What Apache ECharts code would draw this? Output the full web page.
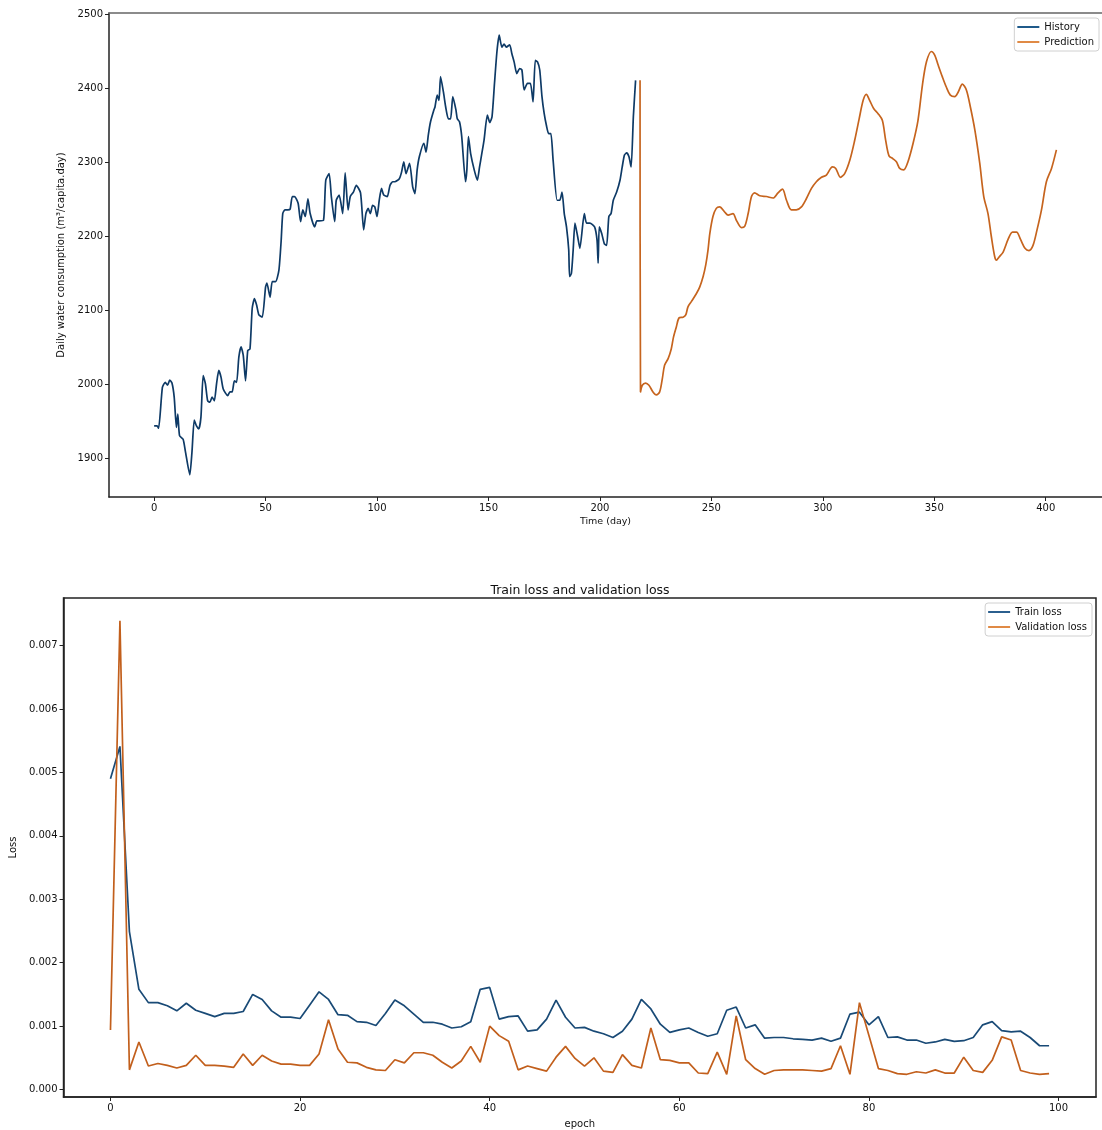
<!DOCTYPE html>
<html>
<head>
<meta charset="utf-8">
<script src="https://cdn.jsdelivr.net/npm/echarts@6/dist/echarts.min.js"></script>
<style>
  html, body { margin: 0; padding: 0; background: #fff; }
  #chart { width: 1102px; height: 1130px; }
</style>
</head>
<body>
<div id="chart"></div>
<script>
// water consumption: history
const historyDays = [0, 1.3, 2, 3.7, 5, 6, 7, 8, 9, 10, 10.6, 11.4, 13, 14, 16, 17, 18, 19, 20, 21, 22, 23, 24, 25, 26, 27, 28, 29, 30, 31, 33, 34, 35, 36, 37, 38, 39, 40, 41, 42, 43, 44, 45, 46, 47, 48.5, 50, 50.6, 52, 53, 54.5, 56, 57, 57.7, 58.7, 60, 61, 62, 63, 64.6, 65.7, 66.7, 67.8, 69, 70, 72, 73, 74, 76, 77, 78.5, 79.5, 81, 81.7, 83, 84.6, 85.7, 87, 88, 89.4, 90.7, 92.6, 94, 95, 96, 97, 98, 99, 100, 101, 102, 103, 104.6, 105.8, 107, 108, 110, 111, 112, 113, 114.6, 116, 117, 118, 119, 121, 122, 123, 124, 125.5, 126, 127, 127.8, 128.5, 129.8, 130.8, 132, 133, 134, 135.4, 136, 137, 138, 139.7, 140.3, 141, 142, 143.6, 145, 146, 147, 148, 149.5, 150.6, 151.6, 152.7, 153.8, 154.8, 156, 157, 158, 159.5, 160.5, 161.5, 162.7, 164, 165, 166, 167.5, 168.8, 170, 171, 172, 173, 174, 175, 176, 177, 178, 179, 180.8, 182, 183, 184, 185, 186, 186.4, 187.2, 188, 188.8, 190, 191, 193, 194, 195.5, 197.6, 198.7, 199.2, 199.7, 200.8, 202, 203, 204, 205, 206, 207.5, 209, 210, 211, 212, 213, 214, 215, 216];
const historyValues = [1944, 1944, 1941, 1996, 2003, 1999, 2006, 2002, 1983, 1942, 1960, 1931, 1926, 1910, 1878, 1910, 1952, 1944, 1940, 1956, 2012, 2001, 1978, 1976, 1983, 1978, 2001, 2019, 2010, 1994, 1985, 1990, 1990, 2005, 2003, 2037, 2051, 2039, 2005, 2046, 2048, 2103, 2116, 2107, 2094, 2091, 2132, 2137, 2118, 2139, 2139, 2155, 2195, 2231, 2236, 2236, 2237, 2254, 2254, 2245, 2220, 2236, 2227, 2251, 2231, 2213, 2221, 2221, 2222, 2276, 2285, 2254, 2220, 2249, 2256, 2231, 2286, 2236, 2254, 2260, 2269, 2259, 2209, 2231, 2238, 2231, 2242, 2240, 2227, 2249, 2265, 2256, 2254, 2269, 2274, 2274, 2278, 2287, 2301, 2285, 2299, 2267, 2258, 2290, 2308, 2326, 2314, 2337, 2355, 2371, 2375, 2391, 2384, 2416, 2395, 2375, 2359, 2359, 2389, 2371, 2359, 2355, 2335, 2274, 2290, 2335, 2312, 2290, 2276, 2294, 2312, 2330, 2364, 2354, 2362, 2407, 2450, 2472, 2456, 2460, 2456, 2459, 2447, 2436, 2420, 2427, 2425, 2398, 2407, 2407, 2382, 2438, 2436, 2425, 2389, 2366, 2350, 2339, 2339, 2303, 2249, 2249, 2260, 2231, 2213, 2182, 2146, 2150, 2182, 2218, 2200, 2184, 2231, 2218, 2218, 2213, 2195, 2164, 2213, 2204, 2190, 2188, 2227, 2231, 2249, 2260, 2276, 2294, 2310, 2313, 2308, 2294, 2362, 2411];

// water consumption: prediction
const predictionDays = [218, 218.2, 219, 220.5, 222, 223.8, 225.3, 226.8, 228, 229, 230.6, 232, 233, 234.3, 235.5, 237.3, 238.5, 239.5, 241, 243.3, 244.8, 246.3, 247.5, 248.5, 249.3, 250.7, 252.2, 253.7, 256, 257.5, 259.7, 261.2, 263.5, 265, 266.5, 268, 269.4, 271.7, 274.7, 277.7, 279.9, 281.9, 283.7, 285.9, 288.1, 290.4, 292.6, 294.9, 297.1, 299.4, 301.6, 304.3, 305.8, 307.9, 309.8, 312.1, 314.3, 316.3, 318.1, 319.5, 321, 322.8, 324.8, 326.7, 328.2, 329.7, 331.5, 333, 334.5, 336.3, 338.2, 340.5, 342.7, 344.7, 346.5, 348.7, 350.2, 351.7, 353.6, 355.4, 357.2, 359.2, 360.7, 362.6, 364.4, 366.2, 368.2, 370.4, 372.2, 374.1, 375.6, 377.1, 377.9, 379, 380.9, 383.1, 385.1, 386.9, 388.7, 390.7, 392.5, 394.3, 396.1, 398.1, 400.3, 402.6, 404.8];
const predictionValues = [2411, 1990, 1999, 2002, 1999, 1990, 1986, 1990, 2008, 2026, 2035, 2048, 2064, 2078, 2090, 2091, 2094, 2105, 2112, 2123, 2132, 2146, 2162, 2182, 2204, 2227, 2238, 2240, 2233, 2229, 2231, 2222, 2212, 2214, 2231, 2254, 2259, 2255, 2254, 2252, 2259, 2264, 2249, 2236, 2236, 2240, 2251, 2265, 2274, 2280, 2283, 2294, 2292, 2280, 2285, 2303, 2330, 2359, 2384, 2392, 2384, 2373, 2366, 2357, 2330, 2309, 2305, 2301, 2292, 2290, 2301, 2326, 2357, 2405, 2436, 2450, 2445, 2432, 2416, 2402, 2391, 2389, 2395, 2406, 2398, 2375, 2344, 2299, 2254, 2231, 2200, 2173, 2168, 2172, 2179, 2196, 2206, 2206, 2196, 2184, 2181, 2188, 2209, 2236, 2274, 2292, 2317];

// loss per epoch (0..99)
const trainLoss = [0.00490, 0.00541, 0.00249, 0.00158, 0.00137, 0.00137, 0.00132, 0.00124, 0.00136, 0.00125,
  0.00120, 0.00115, 0.00120, 0.00120, 0.00123, 0.00150, 0.00142, 0.00124, 0.00114, 0.00114,
  0.00112, 0.00133, 0.00154, 0.00142, 0.00118, 0.00117, 0.00107, 0.00106, 0.00101, 0.00120,
  0.00141, 0.00132, 0.00119, 0.00106, 0.00106, 0.00103, 0.00097, 0.00099, 0.00107, 0.00158,
  0.00161, 0.00111, 0.00115, 0.00116, 0.00092, 0.00094, 0.00111, 0.00141, 0.00114, 0.00097,
  0.00098, 0.00092, 0.00088, 0.00082, 0.00092, 0.00111, 0.00142, 0.00127, 0.00103, 0.00090,
  0.00094, 0.00097, 0.00090, 0.00084, 0.00088, 0.00125, 0.00130, 0.00097, 0.00102, 0.00081,
  0.00082, 0.00082, 0.00080, 0.00079, 0.00078, 0.00081, 0.00076, 0.00081, 0.00119, 0.00122,
  0.00102, 0.00115, 0.00082, 0.00083, 0.00078, 0.00078, 0.00073, 0.00075, 0.00079, 0.00076,
  0.00077, 0.00082, 0.00102, 0.00107, 0.00093, 0.00091, 0.00092, 0.00082, 0.00069, 0.00069];
const valLoss = [0.00094, 0.00739, 0.00031, 0.00075, 0.00037, 0.00041, 0.00038, 0.00034, 0.00038, 0.00054,
  0.00038, 0.00038, 0.00037, 0.00035, 0.00056, 0.00038, 0.00054, 0.00045, 0.00040, 0.00040,
  0.00038, 0.00038, 0.00056, 0.00110, 0.00064, 0.00043, 0.00042, 0.00035, 0.00031, 0.00030,
  0.00047, 0.00042, 0.00058, 0.00058, 0.00054, 0.00043, 0.00034, 0.00045, 0.00068, 0.00043,
  0.00100, 0.00085, 0.00076, 0.00031, 0.00037, 0.00033, 0.00029, 0.00051, 0.00068, 0.00049,
  0.00037, 0.00050, 0.00029, 0.00027, 0.00055, 0.00038, 0.00034, 0.00097, 0.00047, 0.00046,
  0.00042, 0.00042, 0.00026, 0.00025, 0.00059, 0.00024, 0.00116, 0.00047, 0.00033, 0.00024,
  0.00030, 0.00031, 0.00031, 0.00031, 0.00030, 0.00029, 0.00033, 0.00069, 0.00024, 0.00137,
  0.00085, 0.00033, 0.00030, 0.00025, 0.00024, 0.00028, 0.00026, 0.00031, 0.00026, 0.00026,
  0.00051, 0.00030, 0.00027, 0.00046, 0.00083, 0.00078, 0.00030, 0.00026, 0.00024, 0.00025];

// tick labels
const timeTicks = [0, 50, 100, 150, 200, 250, 300, 350, 400];
const waterTicks = [1900, 2000, 2100, 2200, 2300, 2400, 2500];
const epochTicks = [0, 20, 40, 60, 80, 100];
const lossTicks = [0, 0.001, 0.002, 0.003, 0.004, 0.005, 0.006, 0.007];

const FONT = 'DejaVu Sans';
const pairs = (xs, ys) => xs.map((x, i) => [x, ys[i]]);
const epochs = trainLoss.map((_, i) => i);

// shared axis look (matplotlib-ish spines and outward ticks)
const axisBase = (ticks, fmt) => ({
  type: 'value',
  scale: true,
  axisLine: { show: true, onZero: false, lineStyle: { color: '#222', width: 1.5 } },
  axisTick: { show: true, inside: false, length: 4, customValues: ticks, lineStyle: { color: '#222' } },
  axisLabel: { customValues: ticks, color: '#111', fontFamily: FONT, fontSize: 10, margin: 6, formatter: fmt || (v => String(v)) },
  splitLine: { show: false },
  nameTextStyle: { color: '#111', fontFamily: FONT, fontSize: 10 }
});

const legendBase = {
  orient: 'vertical',
  itemWidth: 22, itemHeight: 2, itemGap: 5, icon: 'rect',
  padding: [4, 5, 4, 3],
  backgroundColor: '#fff', borderColor: '#d0d0d0', borderWidth: 1, borderRadius: 3,
  textStyle: { fontFamily: FONT, fontSize: 10, color: '#111' }
};

const chart = echarts.init(document.getElementById('chart'), null, { renderer: 'canvas' });

chart.setOption({
  animation: false,
  backgroundColor: '#fff',
  textStyle: { fontFamily: FONT },
  title: {
    text: 'Train loss and validation loss',
    left: 575, top: 579, textAlign: 'center',
    textStyle: { fontFamily: FONT, fontSize: 12.5, fontWeight: 'normal', color: '#111' }
  },
  grid: [
    // top panel: no right spine (it is cut off by the picture edge)
    { left: 109, top: 13, right: 0, height: 484, show: false },
    { left: 63, top: 598, right: 6, height: 503, show: true, borderColor: '#222', borderWidth: 1.5 }
  ],
  legend: [
    Object.assign({}, legendBase, { data: ['History', 'Prediction'], right: 3, top: 18 }),
    Object.assign({}, legendBase, { data: ['Train loss', 'Validation loss'], right: 10, top: 603 })
  ],
  xAxis: [
    Object.assign(axisBase(timeTicks), {
      gridIndex: 0, min: -20.25, max: 425.25,
      name: 'Time (day)', nameLocation: 'middle', nameGap: 20,
      nameTextStyle: { color: '#111', fontFamily: FONT, fontSize: 9.5 }
    }),
    Object.assign(axisBase(epochTicks), {
      gridIndex: 1, min: -4.95, max: 103.95,
      name: 'epoch', nameLocation: 'middle', nameGap: 22
    }),
    // top spine of the upper panel
    {
      type: 'value', gridIndex: 0, position: 'top', min: -20.25, max: 425.25,
      axisLine: { show: true, lineStyle: { color: '#666', width: 1.5 } },
      axisTick: { show: false }, axisLabel: { show: false }, splitLine: { show: false }
    }
  ],
  yAxis: [
    Object.assign(axisBase(waterTicks), {
      gridIndex: 0, min: 1848, max: 2502,
      name: 'Daily water consumption (m³/capita.day)', nameLocation: 'middle', nameGap: 39
    }),
    Object.assign(axisBase(lossTicks, v => v.toFixed(3)), {
      gridIndex: 1, min: -0.000118, max: 0.00775,
      name: 'Loss', nameLocation: 'middle', nameGap: 37
    })
  ],
  series: [
    {
      name: 'History', type: 'line', xAxisIndex: 0, yAxisIndex: 0,
      data: pairs(historyDays, historyValues),
      showSymbol: false, smooth: 0.2,
      lineStyle: { color: '#0e3a66', width: 1.7 }, itemStyle: { color: '#1f5a8a' }
    },
    {
      name: 'Prediction', type: 'line', xAxisIndex: 0, yAxisIndex: 0,
      data: pairs(predictionDays, predictionValues),
      showSymbol: false, smooth: 0.3,
      lineStyle: { color: '#c6641e', width: 1.7 }, itemStyle: { color: '#e08a45' }
    },
    {
      name: 'Train loss', type: 'line', xAxisIndex: 1, yAxisIndex: 1,
      data: pairs(epochs, trainLoss),
      showSymbol: false,
      lineStyle: { color: '#194a76', width: 1.7 }, itemStyle: { color: '#2b5f8e' }
    },
    {
      name: 'Validation loss', type: 'line', xAxisIndex: 1, yAxisIndex: 1,
      data: pairs(epochs, valLoss),
      showSymbol: false,
      lineStyle: { color: '#c25f1c', width: 1.7 }, itemStyle: { color: '#e08a45' }
    }
  ]
});
</script>
</body>
</html>
